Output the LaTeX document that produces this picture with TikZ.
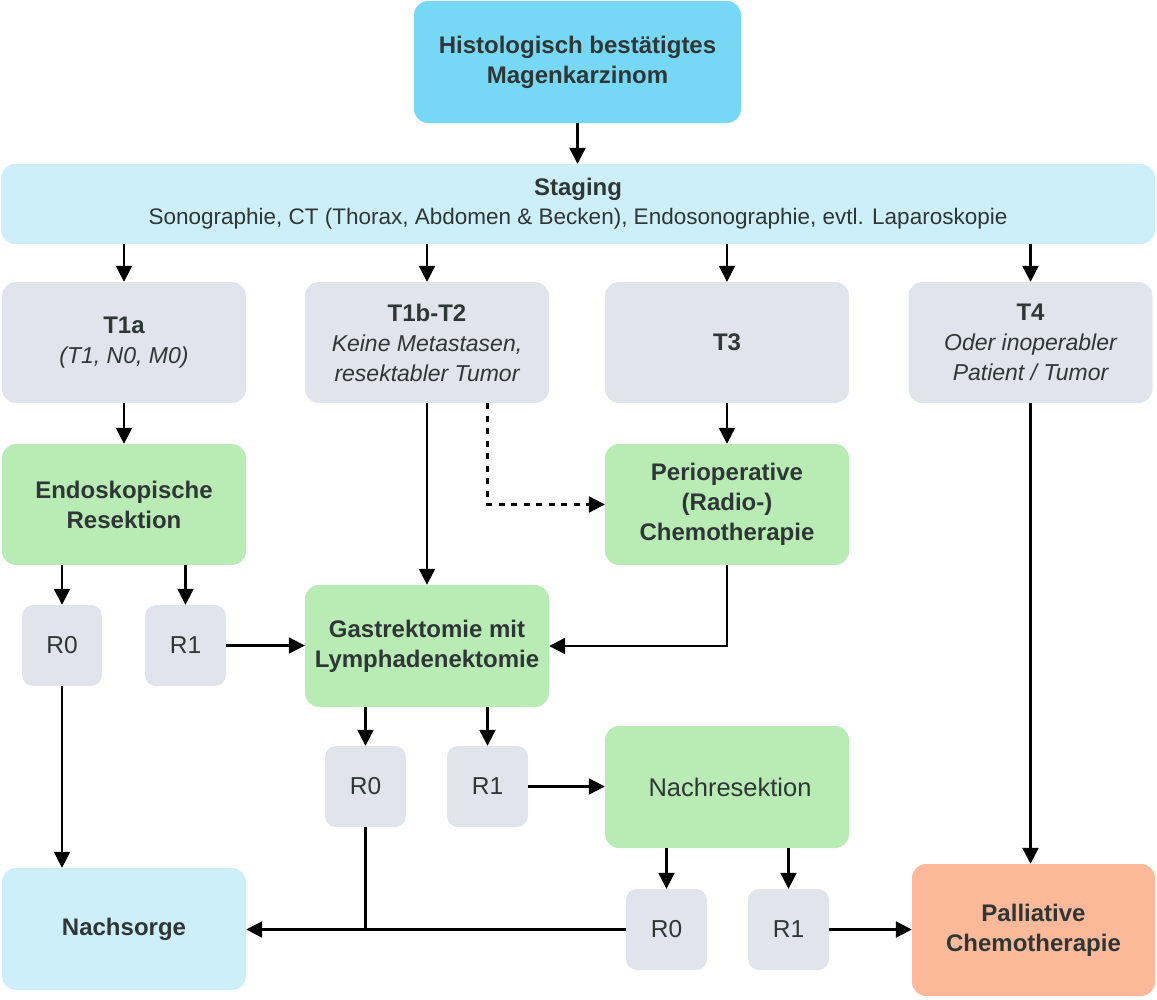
\documentclass[tikz,border=0pt]{standalone}
\usepackage{fontspec}
\setmainfont{Liberation Sans}
\usetikzlibrary{arrows.meta,calc}
\definecolor{txt}{HTML}{2F3636}
\definecolor{topc}{HTML}{77D8F6}
\definecolor{lblue}{HTML}{CDEFFA}
\definecolor{gray1}{HTML}{E1E5EB}
\definecolor{green1}{HTML}{B9EBB5}
\definecolor{salmon}{HTML}{FBB99A}
\newcommand{\btx}[1]{{\fontsize{24}{30}\selectfont\bfseries #1}}
\newcommand{\itx}[1]{{\fontsize{23}{30}\selectfont\itshape #1}}
\begin{document}
\begin{tikzpicture}[x=1pt,y=-1pt,
  box/.style={rectangle, rounded corners=14pt, align=center, inner sep=0pt, text=txt,
    font=\fontsize{24.5}{30}\selectfont, minimum width=244pt, minimum height=121pt},
  rbox/.style={box, rounded corners=11pt, minimum width=81pt, minimum height=81pt},
  conn/.style={line width=2.2pt, -{Triangle[length=16pt,width=16pt]}},
  plain/.style={line width=2.2pt}]
\useasboundingbox (0,0) rectangle (1157,999);
\node[box, fill=topc, minimum width=327pt, minimum height=122pt] (top) at (577.5,62)
  {\btx{Histologisch bestätigtes}\\\btx{Magenkarzinom}};
\node[box, fill=lblue, minimum width=1154pt, minimum height=80pt, font=\fontsize{22.5}{29}\selectfont] (staging) at (578,204)
  {\btx{Staging}\\Sonographie, CT (Thorax, Abdomen \& Becken), Endosonographie, evtl. Laparoskopie};
\node[box, fill=gray1] (t1a) at (124,342.5) {\btx{T1a}\\\itx{(T1, N0, M0)}};
\node[box, fill=gray1] (t1b) at (427,342.5) {\btx{T1b-T2}\\\itx{Keine Metastasen,}\\\itx{resektabler Tumor}};
\node[box, fill=gray1] (t3) at (727,342.5) {\btx{T3}};
\node[box, fill=gray1] (t4) at (1030.5,342.5) {\btx{T4}\\\itx{Oder inoperabler}\\\itx{Patient / Tumor}};
\node[box, fill=green1] (endo) at (124,504.5) {\btx{Endoskopische}\\\btx{Resektion}};
\node[box, fill=green1] (perio) at (727,504.5) {\btx{Perioperative}\\\btx{(Radio-)}\\\btx{Chemotherapie}};
\node[box, fill=green1, minimum height=122pt] (gastr) at (427,646) {\btx{Gastrektomie mit}\\\btx{Lymphadenektomie}};
\node[rbox, fill=gray1, minimum width=80pt] (r0a) at (62,645.5) {R0};
\node[rbox, fill=gray1] (r1a) at (185.5,645.5) {R1};
\node[rbox, fill=gray1] (r0b) at (365.5,786.5) {R0};
\node[rbox, fill=gray1] (r1b) at (487.5,786.5) {R1};
\node[box, fill=green1, minimum height=122pt, font=\fontsize{25.5}{30}\selectfont] (nachres) at (727,787) {\hspace*{6pt}Nachresektion};
\node[rbox, fill=gray1] (r0c) at (666.5,929.5) {R0};
\node[rbox, fill=gray1] (r1c) at (788.5,929.5) {R1};
\node[box, fill=lblue, minimum height=122pt] (nachsorge) at (124,929) {\btx{Nachsorge}};
\node[box, fill=salmon, minimum width=243pt, minimum height=132pt] (pall) at (1033.5,930) {\btx{Palliative}\\\btx{Chemotherapie}};
% connectors
\draw[conn] (top) -- (top.south |- staging.north);
\draw[conn] (t1a.north |- staging.south) -- (t1a.north);
\draw[conn] (t1b.north |- staging.south) -- (t1b.north);
\draw[conn] (t3.north |- staging.south) -- (t3.north);
\draw[conn] (t4.north |- staging.south) -- (t4.north);
\draw[conn] (t1a) -- (endo);
\draw[conn] (t3) -- (perio);
\draw[conn] (t1b) -- (gastr);
\draw[conn, dash pattern=on 6pt off 6.5pt] (r1b.north |- t1b.south) |- (perio.west);
\draw[conn] (r0a.north |- endo.south) -- (r0a.north);
\draw[conn] (r1a.north |- endo.south) -- (r1a.north);
\draw[conn] (r1a.east) -- (r1a.east -| gastr.west);
\draw[conn] (perio.south) |- (gastr.east);
\draw[conn] (r0b.north |- gastr.south) -- (r0b.north);
\draw[conn] (r1b.north |- gastr.south) -- (r1b.north);
\draw[conn] (r1b.east) -- (r1b.east -| nachres.west);
\draw[conn] (r0c.north |- nachres.south) -- (r0c.north);
\draw[conn] (r1c.north |- nachres.south) -- (r1c.north);
\draw[conn] (r0a.south) -- (r0a.south |- nachsorge.north);
\draw[plain] (r0b.south) -- (r0b.south |- r0c.west);
\draw[conn] (r0c.west) -- (r0c.west -| nachsorge.east);
\draw[conn] (r1c.east) -- (r1c.east -| pall.west);
\draw[conn] (t4.south) -- (t4.south |- pall.north);
\end{tikzpicture}
\end{document}
